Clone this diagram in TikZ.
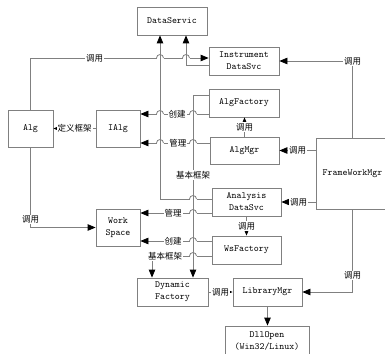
\documentclass[tikz,border=0pt]{standalone}
\usepackage{fontspec}
\newfontfamily\cjk{Noto Sans CJK SC}
\usetikzlibrary{arrows.meta}
\definecolor{linegray}{RGB}{128,128,128}
\tikzset{
  box/.style={draw=linegray, line width=0.8pt, inner sep=0pt, align=center,
    minimum width=70pt, minimum height=28pt,
    font=\fontsize{9.5}{12}\selectfont\ttfamily},
  conn/.style={draw=linegray, line width=0.8pt,
    -{Triangle[length=8pt,width=6.5pt,color=black]}},
  lbl/.style={fill=white, inner sep=1pt, text=black,
    font=\fontsize{8.5}{8.5}\selectfont\cjk},
}
% small arc where a horizontal line jumps over a vertical one
\newcommand{\linehop}[2]{%
  \fill[white] (#1-3.5,#2-1.2) rectangle (#1+3.5,#2+1.2);
  \draw[linegray,line width=0.8pt] (#1,#2-1.6) -- (#1,#2+1.6);
  \draw[linegray,line width=0.8pt] (#1-3.5,#2) arc[start angle=180,end angle=0,radius=3.5pt];
}

\begin{document}
\begin{tikzpicture}[x=1pt,y=-1pt]
\useasboundingbox (0,0) rectangle (385,353);
% Drawing boxes
\node[box] (ds) at (172,21) {DataServic};
\node[box] (ids) at (244,61) {Instrument\\DataSvc};
\node[box] (afac) at (244,103) {AlgFactory};
\node[box,minimum width=69pt,minimum height=27pt] (amgr) at (244.5,150.5) {AlgMgr};
\node[box,minimum width=69pt] (ads) at (246.5,202) {Analysis\\DataSvc};
\node[box,minimum width=69pt] (wsf) at (246.5,250) {WsFactory};
\node[box,minimum width=73pt,minimum height=71pt] (fwm) at (352.5,173.5) {FrameWorkMgr};
\node[box,minimum width=45pt,minimum height=37pt] (alg) at (30.5,128.5) {Alg};
\node[box,minimum width=44pt,minimum height=37pt] (ialg) at (118,128.5) {IAlg};
\node[box,minimum width=44pt,minimum height=37pt] (ws) at (118,227.5) {Work\\Space};
\node[box,minimum width=71pt] (dyn) at (172.5,292) {Dynamic\\Factory};
\node[box,minimum width=69pt] (lib) at (267.5,292) {LibraryMgr};
\node[box,minimum width=84pt,minimum height=30pt] (dll) at (267,341) {DllOpen\\(Win32/Linux)};
% Done with boxes; drawing connectors
% calls from Alg
\draw[conn] (alg.north) |- (ids.west |- 0,58) node[lbl,pos=0.68] {调用};
\draw[conn] (alg.south) |- (ws.west) node[lbl,pos=0.45] {调用};
\draw[conn] (ialg.west) -- (alg.east) node[lbl,midway] {定义框架};
% up to DataServic
\draw[conn] (ads.west |- 0,199) -| ([xshift=-12pt]ds.south);
\draw[conn] (ids.west |- 0,65) -| ([xshift=14pt]ds.south);
% into IAlg and Work Space
\draw[conn] (afac.west |- 0,114) -- (ialg.east |- 0,114) node[lbl,pos=0.46] {创建};
\draw[conn] (amgr.west |- 0,143) -- (ialg.east |- 0,143) node[lbl,pos=0.46] {管理};
\draw[conn] (ads.west |- 0,213) -- (ws.east |- 0,213) node[lbl,pos=0.54] {管理};
\draw[conn] (wsf.west |- 0,241) -- (ws.east |- 0,241) node[lbl,pos=0.54] {创建};
% down to Dynamic Factory
\draw[conn] (afac.west |- 0,95) -| ([xshift=20.5pt]dyn.north) node[lbl,pos=0.72] {基本框架};
\draw[conn] (wsf.west |- 0,256) -| ([xshift=-20.5pt]dyn.north) node[lbl,pos=0.39] {基本框架};
% calls from FrameWorkMgr
\draw[conn] (fwm.north) |- (ids.east) node[lbl,pos=0.5] {调用};
\draw[conn] (fwm.west |- amgr.east) -- (amgr.east) node[lbl,midway] {调用};
\draw[conn] (fwm.west |- ads.east) -- (ads.east) node[lbl,midway] {调用};
\draw[conn] (fwm.south) |- (lib.east) node[lbl,pos=0.4] {调用};
% remaining calls
\draw[conn] (amgr.north) -- (amgr.north |- afac.south) node[lbl,midway] {调用};
\draw[conn] (ads.south) -- (ads.south |- wsf.north) node[lbl,midway] {调用};
\draw[conn] (dyn.east) -- (lib.west) node[lbl,midway] {调用};
\draw[conn] (lib.south) -- (lib.south |- dll.north);
% Done with connectors; drawing line hops
\linehop{160}{58}
\linehop{186}{58}
\linehop{160}{114}
\linehop{193}{114}
\linehop{160}{143}
\linehop{193}{143}
\linehop{193}{199}
\linehop{193}{213}
\linehop{193}{241}
\linehop{193}{256}
% Done with hops
\end{tikzpicture}
\end{document}
